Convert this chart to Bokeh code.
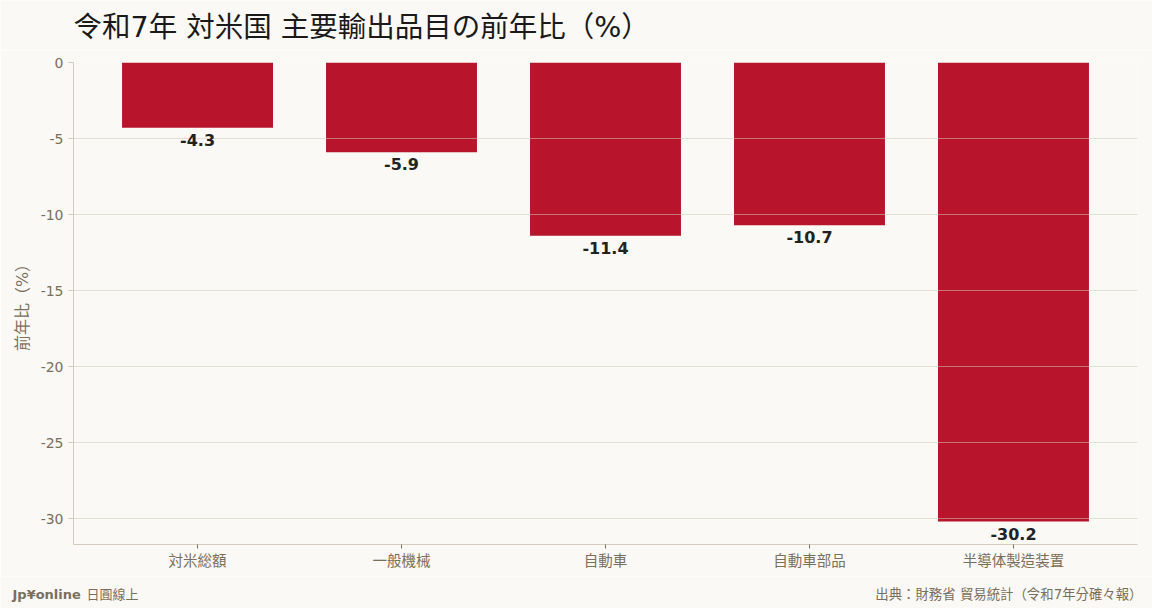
from bokeh.plotting import figure
from bokeh.models import Range1d, FactorRange, FixedTicker, ColumnDataSource, PrintfTickFormatter
from bokeh.layouts import column
from bokeh.embed import file_html
from bokeh.resources import INLINE
from bokeh.core.properties import value

categories = ["対米総額", "一般機械", "自動車", "自動車部品", "半導体製造装置"]
values = [-4.3, -5.9, -11.4, -10.7, -30.2]
y_ticks = [0, -5, -10, -15, -20, -25, -30]

title_text = "令和7年 対米国 主要輸出品目の前年比（%）"
y_label = "前年比（%）"
brand_bold = "Jp¥online"
brand_rest = "日圓線上"
source_text = "出典：財務省 貿易統計（令和7年分確々報）"

BG = "#faf9f5"
BAR = "#b8152c"
MUTED = "#7a6e5c"
AXIS = "#d3cbbd"
FONT = "DejaVu Sans, Noto Sans CJK TC"

W = 1152
HH, FH_, MH = 50, 32, 526
ML, MR, MT, MB = 73, 15, 12, 32


def blank(h):
    f = figure(x_range=Range1d(0, W), y_range=Range1d(0, h), width=W, height=h,
               output_backend="svg", toolbar_location=None, x_axis_type=None, y_axis_type=None,
               min_border=0, min_border_left=0, min_border_right=0, min_border_top=0,
               min_border_bottom=0, background_fill_color=BG, border_fill_color=BG,
               outline_line_color=None)
    f.grid.grid_line_color = None
    f.frame_align = False
    return f


header = blank(HH)
header.text(x=[ML], y=[HH - 27], text=[title_text], text_font=value(FONT), text_font_size="28.5px",
            text_color="#1a1a1a", text_baseline="middle", text_align="left")

ymin = min(values) * 1.05
p = figure(x_range=FactorRange(factors=categories, range_padding=0.108, range_padding_units="absolute"),
           y_range=Range1d(ymin, 0), width=W, height=MH,
           output_backend="svg", toolbar_location=None,
           min_border_left=ML, min_border_right=MR, min_border_top=MT, min_border_bottom=MB,
           background_fill_color=BG, border_fill_color=BG, outline_line_color=None)

src = ColumnDataSource(dict(cat=categories, val=values, lab=[f"{v:.1f}" for v in values]))
p.vbar(x="cat", top="val", bottom=0, width=0.74, source=src, fill_color=BAR, line_color=None)

t = p.text(x="cat", y="val", text="lab", source=src, text_align="center", text_baseline="top",
           y_offset=6, text_font=value(FONT), text_font_style="bold", text_font_size="16px",
           text_color="#222222")
t.level = "overlay"

p.yaxis.ticker = FixedTicker(ticks=y_ticks)
p.yaxis.formatter = PrintfTickFormatter(format="%d")
p.xgrid.grid_line_color = None
p.ygrid.ticker = FixedTicker(ticks=y_ticks)
p.ygrid.grid_line_color = "#cfc8b8"
p.ygrid.grid_line_alpha = 0.55
p.ygrid.level = "guide"

for ax in (p.xaxis[0], p.yaxis[0]):
    ax.axis_line_color = AXIS
    ax.major_tick_line_color = MUTED
    ax.major_tick_in = 0
    ax.minor_tick_line_color = None
    ax.major_label_text_color = MUTED
    ax.major_label_text_font = FONT

p.yaxis.major_tick_out = 5
p.yaxis.major_tick_line_color = AXIS
p.yaxis.major_label_text_font_size = "14px"
p.yaxis.axis_label = y_label
p.yaxis.axis_label_text_font = FONT
p.yaxis.axis_label_text_font_size = "16px"
p.yaxis.axis_label_text_font_style = "normal"
p.yaxis.axis_label_text_color = MUTED
p.yaxis.axis_label_standoff = 6

p.xaxis.major_tick_out = 4
p.xaxis.major_label_text_font_size = "14.5px"
p.xaxis.major_label_standoff = 4

footer = blank(FH_)
fy = FH_ - 18
footer.text(x=[12], y=[fy], text=[brand_bold], text_font=value(FONT), text_font_size="13px",
            text_font_style="bold", text_color=MUTED, text_baseline="middle", text_align="left")
footer.text(x=[86], y=[fy], text=[brand_rest], text_font=value(FONT), text_font_size="13px",
            text_color=MUTED, text_baseline="middle", text_align="left")
footer.text(x=[W - 10], y=[fy], text=[source_text], text_font=value(FONT), text_font_size="13.4px",
            text_color=MUTED, text_baseline="middle", text_align="right")

layout = column(header, p, footer, spacing=0)
open("out.html", "w").write(file_html(layout, INLINE))
